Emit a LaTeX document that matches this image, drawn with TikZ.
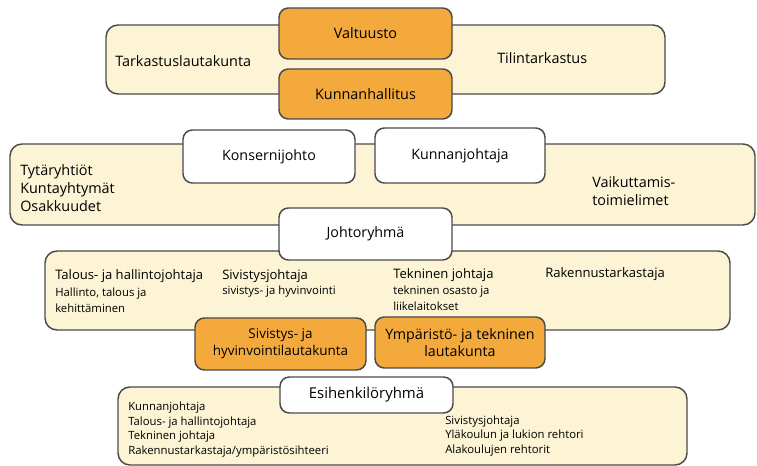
\documentclass[tikz,border=0pt]{standalone}
\usepackage{fontspec}
\setmainfont{Open Sans}

\definecolor{bandcream}{HTML}{FCF4D4}
\definecolor{boxorange}{HTML}{F3A93C}
\definecolor{edgegray}{HTML}{4A4A4A}
\newcommand{\px}{0.75pt}

\tikzset{
    band/.style={draw=edgegray,line width=1.1pt,fill=bandcream,rounded corners=9pt},
    orgbox/.style={draw=edgegray,line width=1.1pt,rounded corners=7pt,align=center,inner sep=0pt},
    orangebox/.style={orgbox,fill=boxorange},
    whitebox/.style={orgbox,fill=white},
    bandtext/.style={anchor=west,align=left,inner sep=0pt,font=\fontsize{10.8}{13.5}\selectfont},
    headtext/.style={anchor=west,align=left,inner sep=0pt,font=\fontsize{9.8}{11}\selectfont},
    smalltext/.style={anchor=west,align=left,inner sep=0pt,font=\fontsize{8.5}{12}\selectfont},
    listtext/.style={anchor=west,align=left,inner sep=0pt,font=\fontsize{8.5}{10.8}\selectfont}
}

\begin{document}
\begin{tikzpicture}[x=\px,y=-\px]
    \useasboundingbox (0,0) rectangle (757,466);
    % taustanauhat
    \draw[band] (106,25) rectangle (665,94);
    \draw[band] (10,144) rectangle (755,225);
    \draw[band] (45,251) rectangle (730,330);
    \draw[band] (118,387) rectangle (687,465);

    % ylin taso
    \node[bandtext] (tarkastus) at (115,61) {Tarkastuslautakunta};
    \node[bandtext] (tilintarkastus) at (497,58) {Tilintarkastus};
    \node[orangebox,minimum width=173*\px,minimum height=51*\px,font=\fontsize{10.8}{12}\selectfont] (valtuusto) at (365.5,33.5) {Valtuusto};
    \node[orangebox,minimum width=173*\px,minimum height=50*\px,font=\fontsize{10.8}{12}\selectfont] (hallitus) at (365.5,94) {Kunnanhallitus};

    % konserni ja johto
    \node[bandtext] (tytar) at (20,188) {Tytäryhtiöt\\Kuntayhtymät\\Osakkuudet};
    \node[bandtext] (vaikuttamis) at (592,191) {Vaikuttamis-\\toimielimet};
    \node[whitebox,minimum width=172*\px,minimum height=53*\px,font=\fontsize{10.7}{12}\selectfont] (konserni) at (269,156.5) {Konsernijohto};
    \node[whitebox,minimum width=170*\px,minimum height=55*\px,font=\fontsize{10.7}{12}\selectfont] (kunnanjohtaja) at (460,155.5) {Kunnanjohtaja};
    \node[whitebox,minimum width=173*\px,minimum height=52*\px,font=\fontsize{10.7}{12}\selectfont] (johtoryhma) at (365.5,234) {Johtoryhmä};

    % toimialat
    \node[headtext] (talous) at (55,276) {Talous- ja hallintojohtaja};
    \node[smalltext] (talousala) at (55,300.5) {Hallinto, talous ja\\kehittäminen};
    \node[headtext] (sivistys) at (222,276) {Sivistysjohtaja};
    \node[smalltext] (sivistysala) at (222,292) {sivistys- ja hyvinvointi};
    \node[headtext] (tekninen) at (393,275) {Tekninen johtaja};
    \node[smalltext] (teknala) at (393,298.5) {tekninen osasto ja\\liikelaitokset};
    \node[headtext] (rakennus) at (545,274) {Rakennustarkastaja};
    \node[orangebox,minimum width=171*\px,minimum height=52*\px,font=\fontsize{10.1}{13}\selectfont] (sivlautakunta) at (280.5,344) {Sivistys- ja\\hyvinvointilautakunta};
    \node[orangebox,minimum width=170*\px,minimum height=51*\px,font=\fontsize{10.7}{13}\selectfont] (ymplautakunta) at (460,342.5) {Ympäristö- ja tekninen\\lautakunta};

    % esihenkilöt
    \node[listtext] (esilista1) at (128,429.5) {Kunnanjohtaja\\Talous- ja hallintojohtaja\\Tekninen johtaja\\Rakennustarkastaja/ympäristösihteeri};
    \node[listtext] (esilista2) at (445,436) {Sivistysjohtaja\\Yläkoulun ja lukion rehtori\\Alakoulujen rehtorit};
    \node[whitebox,minimum width=173*\px,minimum height=36*\px,font=\fontsize{11.2}{12}\selectfont] (esihenkilo) at (366.5,395) {Esihenkilöryhmä};
\end{tikzpicture}
\end{document}
